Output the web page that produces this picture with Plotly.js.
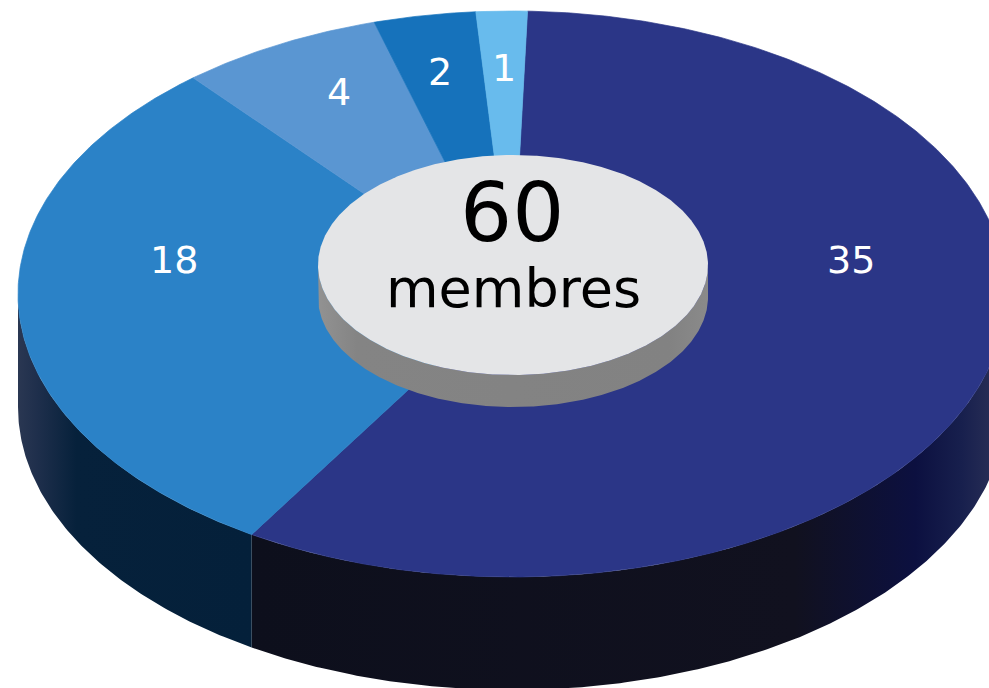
<!DOCTYPE html>
<html>
<head>
<meta charset="utf-8">
<script src="https://cdn.plot.ly/plotly-3.0.1.min.js"></script>
<style>html,body{margin:0;padding:0;background:#fff}#chart{width:989px;height:688px}</style>
</head>
<body>
<div id="chart"></div>
<script>
// Data
const categories = ['A', 'B', 'C', 'D', 'E'];
const values = [35, 18, 4, 2, 1];
const totalLabel = '60';
const unitLabel = 'membres';

// Styles
const sliceColors = ['#2b3687', '#2b82c7', '#5a96d2', '#1672bb', '#68bbed'];
const labelPos = [[851, 260], [174, 260], [339, 92], [440, 72], [504, 68]];

// Geometry of the tilted disc, in the pixel-scaled axes
const disc = {cx: 512, cy: 294, rx: 494, ry: 283, depth: 113, start: 1.8};
const hub = {cx: 513, cy: 265, rx: 195, ry: 110, depth: 32};

const rad = d => d * Math.PI / 180;
function arc(g, a0, a1, dy) {
  const n = Math.max(2, Math.ceil(Math.abs(a1 - a0) * 2));
  const xs = [], ys = [];
  for (let i = 0; i <= n; i++) {
    const a = rad(a0 + (a1 - a0) * i / n);
    xs.push(g.cx + g.rx * Math.sin(a));
    ys.push(g.cy - g.ry * Math.cos(a) + (dy || 0));
  }
  return [xs, ys];
}
function poly(x, y, extra) {
  return Object.assign({x, y, type: 'scatter', mode: 'lines', fill: 'toself',
    line: {width: 0}, hoverinfo: 'skip', showlegend: false}, extra);
}
function wall(g, a0, a1, extra) {
  const [tx, ty] = arc(g, a0, a1, 0);
  const [bx, by] = arc(g, a1, a0, g.depth);
  return poly(tx.concat(bx), ty.concat(by), extra);
}

const total = values.reduce((s, v) => s + v, 0);
const bounds = [disc.start];
values.forEach(v => bounds.push(bounds[bounds.length - 1] + v / total * 360));

const traces = [];
// Side walls of the disc
traces.push(wall(disc, 90, bounds[1], {
  fillcolor: '#0d0f1c',
  fillgradient: {type: 'horizontal', colorscale: [
    [0, '#0d0f1c'], [0.72, '#11111f'], [0.88, '#0c1040'], [0.94, '#171f4d'], [1, '#2e3359']]}
}));
traces.push(wall(disc, bounds[1], 270, {
  fillcolor: '#04203a',
  fillgradient: {type: 'horizontal', colorscale: [
    [0, '#2a3752'], [0.08, '#1f2f4c'], [0.25, '#06213b'], [1, '#04203a']]}
}));
// Top slices (a thin same-colour outline closes the antialiasing seams)
values.forEach((v, i) => {
  const [ax, ay] = arc(disc, bounds[i], bounds[i + 1], 0);
  traces.push(poly([disc.cx].concat(ax, [disc.cx]), [disc.cy].concat(ay, [disc.cy]),
    {fillcolor: sliceColors[i], line: {width: 0.7, color: sliceColors[i]}, name: categories[i]}));
});
// Centre hub
traces.push(wall(hub, 90, 270, {
  fillcolor: '#828282',
  fillgradient: {type: 'horizontal', colorscale: [
    [0, '#929292'], [0.1, '#848484'], [0.9, '#828282'], [1, '#8a8a8a']]}
}));
const [hx, hy] = arc(hub, 0, 360, 0);
traces.push(poly(hx, hy, {fillcolor: '#e4e5e7'}));

const annotations = values.map((v, i) => ({
  x: labelPos[i][0], y: labelPos[i][1], text: String(v), showarrow: false,
  xanchor: 'center', yanchor: 'middle',
  font: {family: 'DejaVu Sans', size: 38, color: '#ffffff'}
}));
annotations.push({x: 512, y: 212, text: totalLabel, showarrow: false, xanchor: 'center', yanchor: 'middle',
  font: {family: 'DejaVu Sans', size: 82, color: '#000000'}});
annotations.push({x: 513, y: 288, text: unitLabel, showarrow: false, xanchor: 'center', yanchor: 'middle',
  font: {family: 'DejaVu Sans', size: 54, color: '#000000'}});

const hiddenAxis = range => ({range, visible: false, showgrid: false, zeroline: false, fixedrange: true});
Plotly.newPlot('chart', traces, {
  width: 989, height: 688,
  margin: {l: 0, r: 0, t: 0, b: 0, pad: 0},
  paper_bgcolor: '#ffffff', plot_bgcolor: '#ffffff',
  showlegend: false,
  xaxis: hiddenAxis([0, 989]),
  yaxis: hiddenAxis([688, 0]),
  annotations
}, {displayModeBar: false, staticPlot: true});
</script>
</body>
</html>
